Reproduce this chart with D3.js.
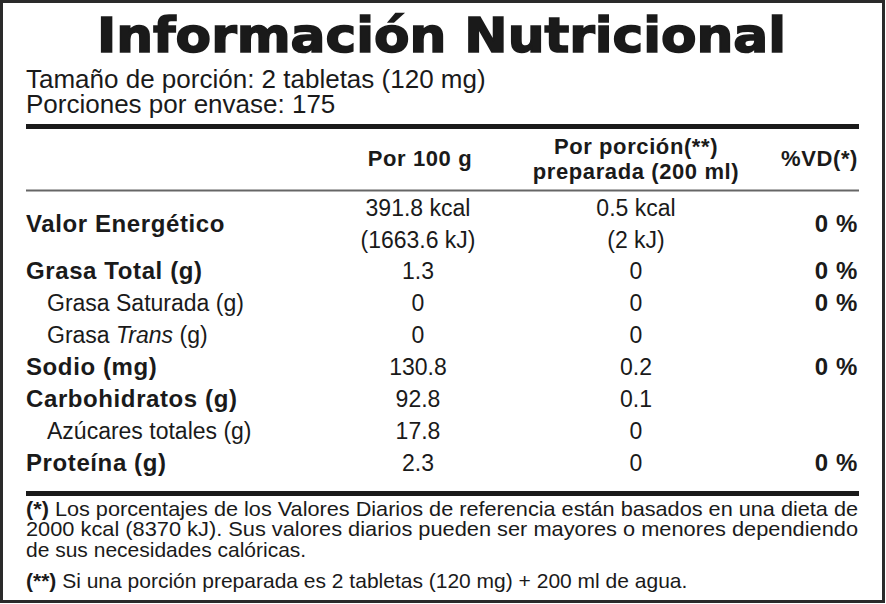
<!DOCTYPE html>
<html><head><meta charset="utf-8">
<script src="https://cdn.jsdelivr.net/npm/d3@7"></script>
<style>body{margin:0;background:#fff}text{fill:#1a1a1a}</style>
</head><body><svg width="886" height="604"></svg>
<script>
const nutrients = ["Grasa Total (g)", "Grasa Saturada (g)", "Grasa Trans (g)", "Sodio (mg)", "Carbohidratos (g)", "Azúcares totales (g)", "Proteína (g)"]
const bold = [true, false, false, true, true, false, true]
const per100 = ["1.3", "0", "0", "130.8", "92.8", "17.8", "2.3"]
const perPortion = ["0", "0", "0", "0.2", "0.1", "0", "0"]
const vd = ["0 %", "0 %", "", "0 %", "", "", "0 %"]
const energy = ["391.8 kcal", "(1663.6 kJ)", "0.5 kcal", "(2 kJ)", "0 %"]

const svg = d3.select("svg")
const font = "'Liberation Sans', Arial, sans-serif"
const y = d3.scaleLinear().domain([0, 1]).range([279, 311])

svg.append("rect").attr("x", 1.5).attr("y", 1.5).attr("width", 882).attr("height", 600)
	.attr("fill", "none").attr("stroke", "#2a2a2a").attr("stroke-width", 3)

svg.append("text").attr("x", 97).attr("y", 52).text("Información Nutricional")
	.attr("font-family", "'DejaVu Sans', sans-serif").attr("font-weight", "bold").attr("font-size", 48)
	.attr("stroke", "#1a1a1a").attr("stroke-width", 1.6)
	.attr("textLength", 689).attr("lengthAdjust", "spacingAndGlyphs")

const t = (x, yy, s, size, w, anchor) => svg.append("text").attr("x", x).attr("y", yy).text(s)
	.attr("font-family", font).attr("font-size", size).attr("font-weight", w || "normal")
	.attr("text-anchor", anchor || "start")
	.attr("letter-spacing", w === "bold" ? 0.6 : 0)

t(26, 88, "Tamaño de porción: 2 tabletas (120 mg)", 26)
t(26, 113, "Porciones por envase: 175", 26)

svg.append("rect").attr("x", 26).attr("y", 124).attr("width", 833).attr("height", 5).attr("fill", "#1a1a1a")
svg.append("rect").attr("x", 26).attr("y", 189.5).attr("width", 833).attr("height", 2).attr("fill", "#666")
svg.append("rect").attr("x", 26).attr("y", 491).attr("width", 833).attr("height", 5).attr("fill", "#1a1a1a")

t(420, 166, "Por 100 g", 22, "bold", "middle")
t(636, 154, "Por porción(**)", 22, "bold", "middle")
t(636, 179, "preparada (200 ml)", 22, "bold", "middle")
t(858, 166, "%VD(*)", 22, "bold", "end")

t(26, 232, "Valor Energético", 24, "bold")
t(418, 216, energy[0], 23, null, "middle")
t(418, 248, energy[1], 23, null, "middle")
t(636, 216, energy[2], 23, null, "middle")
t(636, 248, energy[3], 23, null, "middle")
t(858, 232, energy[4], 24, "bold", "end")

nutrients.forEach((n, i) => {
	const yy = y(i)
	if (n === "Grasa Trans (g)") {
		const tx = t(47, yy, "Grasa ", 23)
		tx.append("tspan").attr("font-style", "italic").text("Trans")
		tx.append("tspan").text(" (g)")
	} else {
		t(bold[i] ? 26 : 47, yy, n, bold[i] ? 24 : 23, bold[i] ? "bold" : null)
	}
	t(418, yy, per100[i], 23, null, "middle")
	t(636, yy, perPortion[i], 23, null, "middle")
	if (vd[i]) t(858, yy, vd[i], 24, "bold", "end")
})

const f1 = t(26, 516, "", 21).attr("textLength", 832).attr("lengthAdjust", "spacingAndGlyphs")
f1.append("tspan").attr("font-weight", "bold").text("(*)")
f1.append("tspan").text(" Los porcentajes de los Valores Diarios de referencia están basados en una dieta de")
t(26, 536, "2000 kcal (8370 kJ). Sus valores diarios pueden ser mayores o menores dependiendo", 21)
	.attr("textLength", 832).attr("lengthAdjust", "spacingAndGlyphs")
t(26, 557, "de sus necesidades calóricas.", 21)
const f4 = t(26, 588, "", 21)
f4.append("tspan").attr("font-weight", "bold").text("(**)")
f4.append("tspan").text(" Si una porción preparada es 2 tabletas (120 mg) + 200 ml de agua.")
</script></body></html>
